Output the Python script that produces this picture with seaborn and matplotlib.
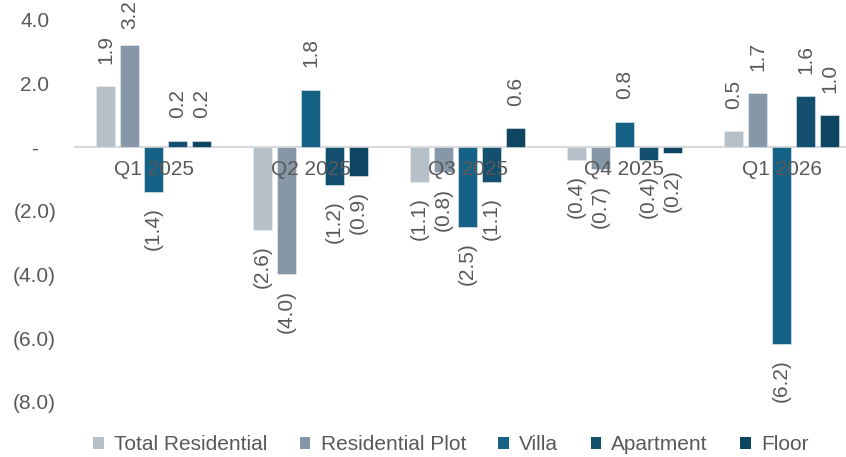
import pandas as pd
import seaborn as sns
import matplotlib.pyplot as plt
from matplotlib.patches import Patch

# quarterly change by segment
quarters = ['Q1 2025', 'Q2 2025', 'Q3 2025', 'Q4 2025', 'Q1 2026']
segments = ['Total Residential', 'Residential Plot', 'Villa', 'Apartment', 'Floor']
total_residential = [1.9, -2.6, -1.1, -0.4, 0.5]
residential_plot = [3.2, -4.0, -0.8, -0.7, 1.7]
villa = [-1.4, 1.8, -2.5, 0.8, -6.2]
apartment = [0.2, -1.2, -1.1, -0.4, 1.6]
floor = [0.2, -0.9, 0.6, -0.2, 1.0]
y_ticks = [4, 2, 0, -2, -4, -6, -8]

colors = ['#b5c0c9', '#8697a8', '#166186', '#135070', '#0e4560']
text_color = '#595959'


def fmt(v):
    # accounting style: negatives in brackets, zero as dash
    if v == 0:
        return '-'
    if v < 0:
        return f'({abs(v):.1f})'
    return f'{v:.1f}'


series = [total_residential, residential_plot, villa, apartment, floor]
df = pd.DataFrame({
    'Quarter': quarters * len(segments),
    'Segment': [s for s in segments for _ in quarters],
    'Value': [v for vals in series for v in vals],
})

sns.set_style('white')
plt.rcParams['font.family'] = ['Liberation Sans', 'DejaVu Sans']

fig = plt.figure(figsize=(8.46, 4.57), dpi=100)
ax = fig.add_axes([75 / 846, 0.1208, 785 / 846, 0.8363])

sns.barplot(data=df, x='Quarter', y='Value', hue='Segment', order=quarters,
            hue_order=segments, palette=colors, width=0.765, gap=0.18,
            edgecolor='#e8eef2', linewidth=0.4, saturation=1, legend=False, ax=ax)

# data labels, rotated; positives above, negatives below
pos_labels = []
for cont, vals in zip(ax.containers, series):
    pos_labels += ax.bar_label(cont, labels=[fmt(v) if v > 0 else '' for v in vals],
                               rotation=90, padding=16, fontsize=15, color=text_color)
    ax.bar_label(cont, labels=[fmt(v) if v < 0 else '' for v in vals],
                 rotation=90, padding=11, fontsize=15, color=text_color)

ax.set_ylim(-8, 4)
ax.set_xlim(-0.5, 4.5)
ax.set_yticks(y_ticks)
ax.set_yticklabels([fmt(t) for t in y_ticks])
for lab in ax.get_yticklabels():
    lab.set_horizontalalignment('center')
ax.tick_params(axis='y', length=0, pad=29, labelsize=15, labelcolor=text_color)
ax.tick_params(axis='x', length=0, pad=9, labelsize=15, labelcolor=text_color)
ax.set_xlabel('')
ax.set_ylabel('')

# quarter labels sit on top of the bars
ax.set_axisbelow(False)
ax.xaxis.set_zorder(3)

for side in ['top', 'right', 'left']:
    ax.spines[side].set_visible(False)
ax.spines['bottom'].set_position(('data', 0))
ax.spines['bottom'].set_color('#d9d9d9')
ax.spines['bottom'].set_linewidth(1.5)
ax.spines['bottom'].set_zorder(0.5)

handles = [Patch(facecolor=c, edgecolor='none', label=s) for c, s in zip(colors, segments)]
fig.legend(handles=handles, loc='center', bbox_to_anchor=(451 / 846, 12 / 457),
           ncol=5, frameon=False, fontsize=15, labelcolor=text_color,
           handlelength=0.5, handleheight=0.5, handletextpad=0.5,
           columnspacing=1.55)

# pull down any label that would run past the top edge
fig.canvas.draw()
renderer = fig.canvas.get_renderer()
top = fig.bbox.height
for t in pos_labels:
    if not t.get_text():
        continue
    bb = t.get_window_extent(renderer)
    if bb.y1 > top:
        dx, dy = t.xyann
        t.xyann = (dx, dy - (bb.y1 - top) * 72 / fig.dpi)

fig.savefig('out.png', dpi=100)
